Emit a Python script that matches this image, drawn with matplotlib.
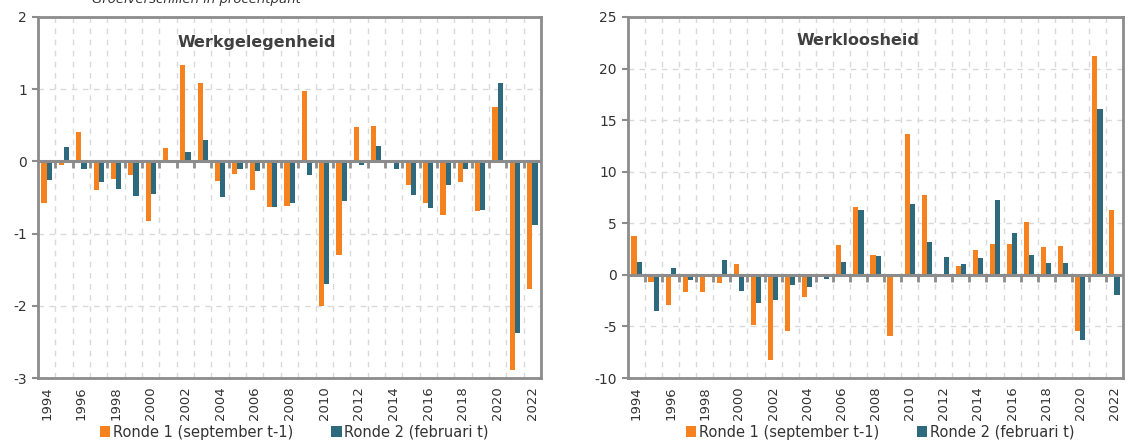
import matplotlib
matplotlib.use("Agg")
import matplotlib.pyplot as plt
from matplotlib.markers import TICKDOWN
import numpy as np

years = list(range(1994, 2023))

# Werkgelegenheid, groeiverschillen in procentpunt
werk_ronde1 = [-0.57, -0.05, 0.41, -0.40, -0.25, -0.19, -0.82, 0.18, 1.33, 1.09,
               -0.27, -0.18, -0.39, -0.63, -0.62, 0.98, -2.00, -1.29, 0.47, 0.49,
               0.01, -0.32, -0.58, -0.74, -0.29, -0.69, 0.76, -2.89, -1.77]
werk_ronde2 = [-0.26, 0.20, -0.10, -0.28, -0.38, -0.48, -0.45, 0.01, 0.13, 0.29,
               -0.50, -0.11, -0.13, -0.63, -0.57, -0.19, -1.70, -0.55, -0.05, 0.21,
               -0.11, -0.47, -0.64, -0.32, -0.10, -0.67, 1.09, -2.37, -0.88]

# Werkloosheid
wl_ronde1 = [3.8, -0.7, -2.9, -1.7, -1.7, -0.8, 1.07, -4.9, -8.3, -5.4,
             -2.15, 0.0, 2.9, 6.55, 1.95, -5.97, 13.7, 7.75, 0.05, 0.87,
             2.4, 3.0, 3.03, 5.13, 2.68, 2.8, -5.4, 21.2, 6.3]
wl_ronde2 = [1.2, -3.55, 0.65, -0.5, 0.05, 1.45, -1.6, -2.75, -2.4, -1.03,
             -1.2, -0.45, 1.25, 6.3, 1.8, 0.0, 6.9, 3.2, 1.7, 1.06,
             1.6, 7.26, 4.03, 1.97, 1.13, 1.16, -6.35, 16.1, -2.0]

labels = ["Ronde 1 (september t-1)", "Ronde 2 (februari t)"]
orange = "#F5821F"
blue = "#2E6A7E"
gray = "#8C8C8C"
txt = "#333333"

plt.rcParams["font.family"] = ["DejaVu Sans"]

fig = plt.figure(figsize=(11.28, 4.43), dpi=100)
ax1 = fig.add_axes([38 / 1128, 1 - 378 / 443, 503 / 1128, 361 / 443])
ax2 = fig.add_axes([628 / 1128, 1 - 378 / 443, 495 / 1128, 361 / 443])


def draw_panel(ax, r1, r2, title, ylim, yticks, title_x, title_y):
    x = np.arange(len(years))
    w = 0.3
    ax.bar(x - w / 2, r1, w, color=orange, label=labels[0], zorder=2)
    ax.bar(x + w / 2, r2, w, color=blue, label=labels[1], zorder=2)
    ax.set_xlim(-0.5, len(years) - 0.5)
    ax.set_ylim(*ylim)
    ax.set_yticks(yticks)
    ax.set_yticklabels([str(t) for t in yticks], fontsize=10, color=txt)
    ax.set_xticks(x[::2])
    ax.set_xticklabels([str(y) for y in years[::2]], rotation=90,
                       fontsize=9.5, color=txt)
    ax.tick_params(axis="x", length=0, pad=6)
    ax.tick_params(axis="y", length=4, width=1.5, color=gray, pad=4)
    bounds = np.arange(len(years) - 1) + 0.5
    ax.set_xticks(bounds, minor=True)
    ax.tick_params(axis="x", which="minor", length=0)
    ax.grid(True, which="minor", axis="x", color="#d9d9d9",
            linestyle=(0, (4, 4)), linewidth=1, zorder=0)
    ax.grid(True, which="major", axis="y", color="#d9d9d9",
            linestyle=(0, (4, 4)), linewidth=1, zorder=0)
    ax.set_axisbelow(True)
    ax.axhline(0, color=gray, linewidth=2.2, zorder=3)
    ax.plot(bounds, np.zeros_like(bounds), linestyle="none", marker=TICKDOWN,
            markersize=5, markeredgewidth=2, color=gray, zorder=3,
            clip_on=False)
    for s in ax.spines.values():
        s.set_color(gray)
        s.set_linewidth(2)
    ax.text(title_x, title_y, title, transform=ax.transAxes, ha="center",
            va="center", fontsize=11.5, fontweight="bold", color="#404040")
    ax.legend(loc="center", bbox_to_anchor=(0.51, -0.15), ncol=2,
              frameon=False, fontsize=10.5, handlelength=0.7,
              handleheight=0.7, handletextpad=0.2, columnspacing=2.6,
              labelcolor=txt)


draw_panel(ax1, werk_ronde1, werk_ronde2, "Werkgelegenheid", (-3, 2),
           list(range(-3, 3)), 0.435, 0.928)
draw_panel(ax2, wl_ronde1, wl_ronde2, "Werkloosheid", (-10, 25),
           list(range(-10, 30, 5)), 0.464, 0.936)

fig.text(92 / 1128, 1 - 3 / 443, "Groeiverschillen in procentpunt",
         fontsize=9.5, style="italic", color=txt, va="baseline", ha="left")

fig.savefig("out.png", dpi=100)
